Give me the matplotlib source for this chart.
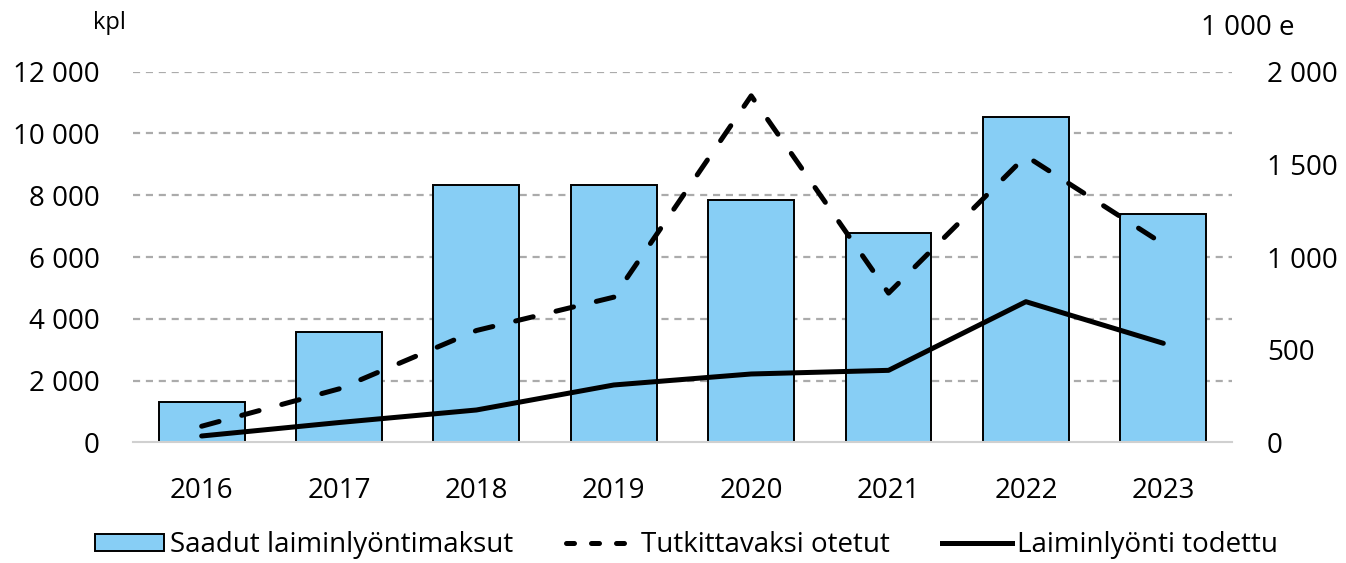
import matplotlib
matplotlib.use("Agg")
import matplotlib.pyplot as plt
from matplotlib.lines import Line2D
from matplotlib.patches import Patch

plt.rcParams["font.family"] = ["Open Sans", "DejaVu Sans"]

years = ["2016", "2017", "2018", "2019", "2020", "2021", "2022", "2023"]
# Received negligence fees, thousand euros (right axis)
fees_keur = [216, 594, 1389, 1387, 1309, 1130, 1757, 1231]
# Cases taken for investigation, count (left axis)
investigated = [520, 1730, 3620, 4700, 11220, 4830, 9270, 6420]
# Cases where negligence was established, count (left axis)
established = [204, 640, 1046, 1856, 2212, 2330, 4553, 3206]

left_ticks = [0, 2000, 4000, 6000, 8000, 10000, 12000]
right_ticks = [0, 500, 1000, 1500, 2000]
left_max, right_max = 12000, 2000

FS = 20
DASH = (0, (3.6, 4.7))

def fmt(v):
    return f"{v:,}".replace(",", " ")

fig = plt.figure(figsize=(13.46, 5.63), dpi=100)
ax2 = fig.add_axes([0.0988, 0.2144, 0.8165, 0.6582])   # bars, right scale
ax = ax2.twinx()                                        # lines, left scale
ax.yaxis.tick_left()
ax2.yaxis.tick_right()
ax.set_zorder(ax2.get_zorder() + 1)
ax.patch.set_visible(False)

x = list(range(len(years)))

# grid lines at the left-scale ticks, kept behind the bars
for v in left_ticks[1:]:
    ax2.axhline(v * right_max / left_max, color="#ababab", lw=1.6,
                ls=(0, (3.2, 2.6)), zorder=0)

ax2.bar(x, fees_keur, width=0.625, color="#87CEF5", edgecolor="black",
        linewidth=1.4, zorder=2)

ax.plot(x, investigated, color="black", lw=3.6, ls=DASH,
        solid_capstyle="round", dash_capstyle="round", zorder=3)
ax.plot(x, established, color="black", lw=3.6, solid_capstyle="round",
        zorder=3)

ax.set_ylim(0, left_max)
ax2.set_ylim(0, right_max)
ax.set_xlim(-0.5, len(years) - 0.5)
ax2.set_xlim(-0.5, len(years) - 0.5)

ax.set_yticks(left_ticks)
ax.set_yticklabels([fmt(v) for v in left_ticks], fontsize=FS)
ax2.set_yticks(right_ticks)
ax2.set_yticklabels([fmt(v) for v in right_ticks], fontsize=FS, ha="left")
ax2.set_xticks(x)
ax2.set_xticklabels(years, fontsize=FS)

ax.tick_params(axis="y", length=0, pad=24)
ax2.tick_params(axis="y", length=0, pad=25)
ax2.tick_params(axis="x", length=0, pad=25)
ax.tick_params(axis="x", length=0, labelbottom=False)

for a in (ax, ax2):
    for s in a.spines.values():
        s.set_visible(False)
ax2.spines["bottom"].set_visible(True)
ax2.spines["bottom"].set_color("#d0d0d0")
ax2.spines["bottom"].set_linewidth(1.5)

fig.text(0.0688, 0.96, "kpl", fontsize=17, ha="left", va="center")
fig.text(0.962, 0.951, "1 000 e", fontsize=FS, ha="right", va="center")

handles = [
    Patch(facecolor="#87CEF5", edgecolor="black", linewidth=1.4),
    Line2D([0], [0], color="black", lw=3.6, ls=(0, (1.6, 3.4)),
           dash_capstyle="round"),
    Line2D([0], [0], color="black", lw=3.6),
]
labels = ["Saadut laiminlyöntimaksut", "Tutkittavaksi otetut",
          "Laiminlyönti todettu"]
fig.legend(handles, labels, loc="center", bbox_to_anchor=(0.51, 0.032),
           ncol=3, frameon=False, fontsize=FS, handlelength=2.5,
           handleheight=0.55, handletextpad=0.2, columnspacing=1.9)

fig.savefig("out.png", dpi=100)
